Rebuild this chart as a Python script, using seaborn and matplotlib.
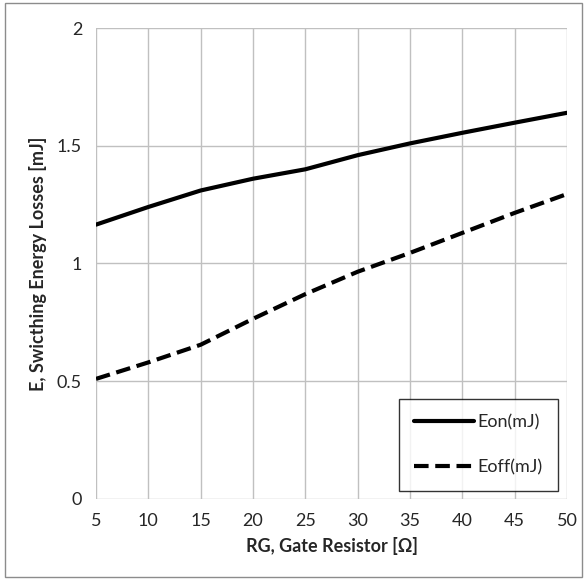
import numpy as np
import pandas as pd
import seaborn as sns
import matplotlib.pyplot as plt
from matplotlib.patches import Rectangle

sns.set_style('white')
plt.rcParams['font.family'] = ['Lato', 'DejaVu Sans']

rg = [5, 10, 15, 20, 25, 30, 35, 40, 45, 50]
eon = [1.165, 1.24, 1.31, 1.36, 1.40, 1.46, 1.51, 1.555, 1.598, 1.64]
eoff = [0.51, 0.58, 0.655, 0.765, 0.87, 0.965, 1.045, 1.13, 1.215, 1.295]

df = pd.DataFrame({'RG': rg, 'Eon(mJ)': eon, 'Eoff(mJ)': eoff})
long = df.melt(id_vars='RG', var_name='series', value_name='E')

fig = plt.figure(figsize=(5.87, 5.80), dpi=100)
ax = fig.add_axes([0.1635, 0.1397, 0.8025, 0.812])

sns.lineplot(data=long, x='RG', y='E', style='series', color='black',
             linewidth=3, dashes={'Eon(mJ)': '', 'Eoff(mJ)': (3.5, 1.6)}, ax=ax)

ax.set_xlim(5, 50)
ax.set_ylim(0, 2)
ax.set_xticks(np.arange(5, 51, 5))
ax.set_yticks([0, 0.5, 1, 1.5, 2])
ax.set_yticklabels(['0', '0.5', '1', '1.5', '2'])
ax.grid(True, color='#c0c0c0', linewidth=1)
ax.set_axisbelow(True)
for s in ax.spines.values():
    s.set_visible(False)
ax.tick_params(axis='both', length=5, color='#a0a0a0', width=1,
               labelsize=13, pad=5)
ax.set_xlabel('RG, Gate Resistor [Ω]', fontsize=13, fontweight='bold', labelpad=6)
ax.set_ylabel('E, Swicthing Energy Losses [mJ]', fontsize=13, fontweight='bold', labelpad=7)

leg = ax.legend(loc='lower right', bbox_to_anchor=(0.981, 0.017), fontsize=13,
                frameon=True, fancybox=False, handlelength=3.3, labelspacing=1.6,
                borderpad=0.85, handletextpad=0.2, borderaxespad=0)
leg.get_frame().set_edgecolor('black')
leg.get_frame().set_linewidth(1)
leg.set_title(None)

fig.patches.append(Rectangle((5 / 587, 3 / 580), 577 / 587, 574 / 580,
                             transform=fig.transFigure, fill=False,
                             edgecolor='#8c8c8c', linewidth=1))

fig.savefig('out.png', dpi=100)
